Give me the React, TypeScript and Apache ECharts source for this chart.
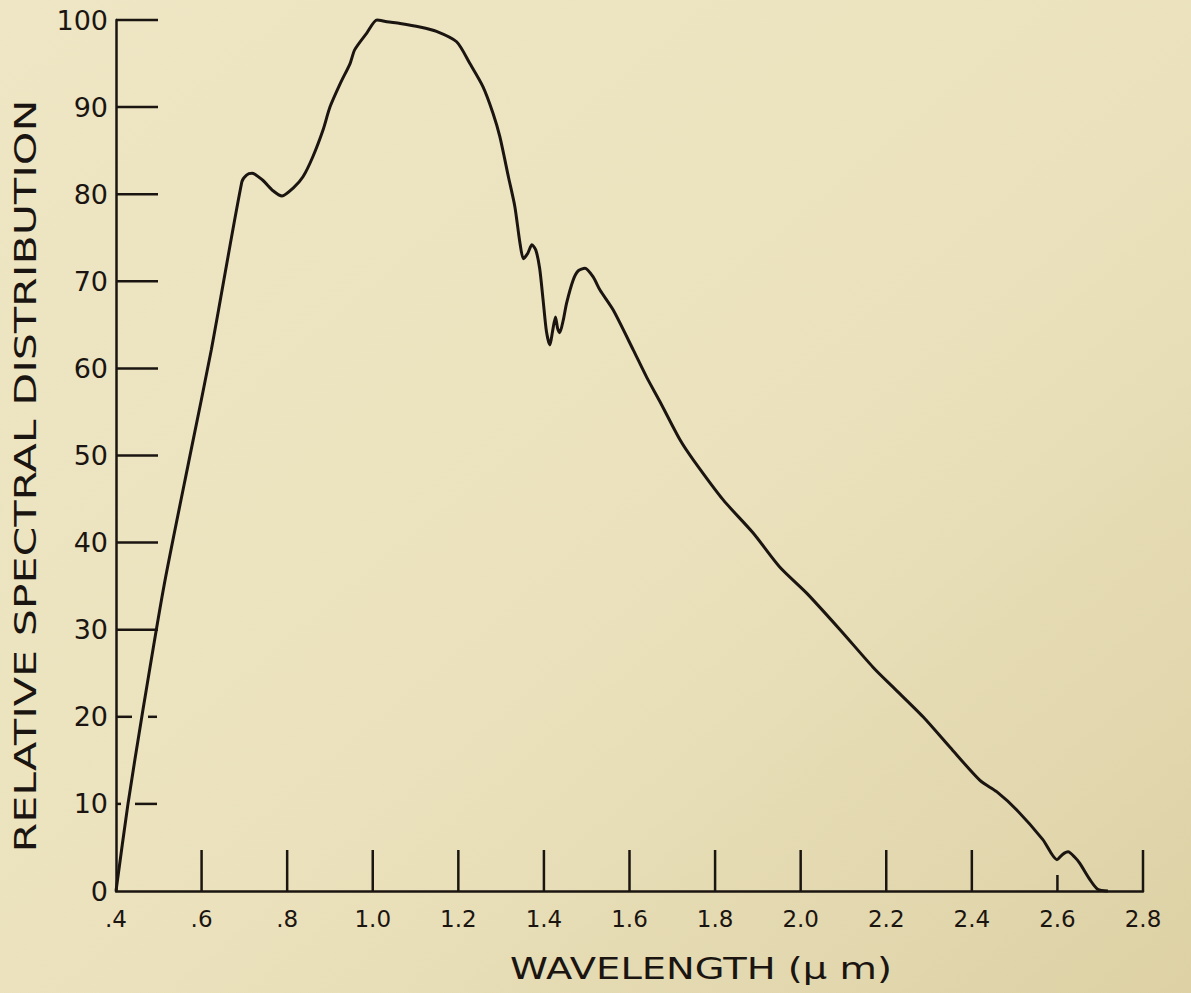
import React, { useEffect, useRef } from "react";
import * as echarts from "echarts";

// ---- data ----
const wavelengths = [
  0.4, 0.428, 0.461, 0.512, 0.575, 0.623, 0.694, 0.705, 0.718, 0.743, 0.767, 0.788,
  0.814, 0.837, 0.86, 0.884, 0.9, 0.925, 0.947, 0.958, 0.986, 1.01, 1.033, 1.064,
  1.11, 1.149, 1.196, 1.227, 1.258, 1.281, 1.297, 1.317, 1.332, 1.344, 1.352, 1.362,
  1.372, 1.381, 1.39, 1.398, 1.406, 1.414, 1.42, 1.427, 1.432, 1.437, 1.445, 1.453,
  1.468, 1.48, 1.496, 1.515, 1.531, 1.562, 1.609, 1.64, 1.671, 1.718, 1.749, 1.819,
  1.889, 1.951, 2.014, 2.092, 2.169, 2.216, 2.286, 2.349, 2.419, 2.458, 2.505, 2.566,
  2.599, 2.612, 2.625, 2.64, 2.652, 2.676, 2.694, 2.718,
];
const distribution = [
  0, 10, 20.2, 35, 50.5, 62.2, 81.4, 82.2, 82.4, 81.6, 80.4, 79.8,
  80.7, 82, 84.3, 87.4, 90, 92.8, 95, 96.6, 98.5, 100, 99.8, 99.6,
  99.2, 98.7, 97.5, 95, 92.3, 89.3, 86.6, 82, 78.6, 74.4, 72.6, 73.2,
  74.2, 73.6, 71.5, 67.9, 64.2, 62.7, 64.2, 65.9, 64.6, 64.1, 65.5, 67.5,
  70.1, 71.2, 71.5, 70.5, 69, 66.7, 62.1, 59, 56.2, 51.8, 49.5, 44.9,
  41.1, 37.2, 34.2, 30, 25.7, 23.4, 20, 16.5, 12.7, 11.4, 9.3, 5.9,
  3.6, 4.2, 4.5, 3.9, 3.2, 1.3, 0.2, 0,
];
const xTickValues = [0.6, 0.8, 1.0, 1.2, 1.4, 1.6, 1.8, 2.0, 2.2, 2.4, 2.6, 2.8];
const xTickLabels = [".4", ".6", ".8", "1.0", "1.2", "1.4", "1.6", "1.8", "2.0", "2.2", "2.4", "2.6", "2.8"];
const yTickValues = [10, 20, 30, 40, 50, 60, 70, 80, 90, 100];
const yTickLabels = ["0", "10", "20", "30", "40", "50", "60", "70", "80", "90", "100"];
const xTitle = "WAVELENGTH (\u03bc m)";
const yTitle = "RELATIVE SPECTRAL DISTRIBUTION";

// ---- styling ----
const INK = "#1b1511";
const FONT = "DejaVu Sans";
const X_MIN = 0.4;
const X_MAX = 2.8;
// tick segments (pixel offsets from axis), default full length
const Y_TICK_FULL = [[0, 42]];
const Y_TICK_SEGS: Record<string, number[][]> = { "10": [[0, 5], [19, 41]], "20": [[0, 16], [32, 41]] };
const X_TICK_FULL = [[0, 41]];
const X_TICK_SEGS: Record<string, number[][]> = { "2.6": [[0, 16]] };

export default function App() {
  const ref = useRef<HTMLDivElement>(null);
  useEffect(() => {
    if (!ref.current) return;
    const chart = echarts.init(ref.current, undefined, { renderer: "svg" });
    const curve = wavelengths.map((w, i) => [w, distribution[i]]);
    const lineStyle = { stroke: INK, lineWidth: 2.5 };
    chart.setOption({
      animation: false,
      backgroundColor: {
        type: "linear", x: 0, y: 0, x2: 1, y2: 1,
        colorStops: [
          { offset: 0, color: "#eee6c4" },
          { offset: 0.55, color: "#ebe2bd" },
          { offset: 1, color: "#ddd1a5" },
        ],
      },
      grid: { left: 116, right: 48, top: 20, bottom: 102, containLabel: false },
      xAxis: {
        type: "value", min: X_MIN, max: X_MAX, interval: 0.2,
        axisLine: { show: true, onZero: false, lineStyle: { color: INK, width: 2.5 } },
        axisTick: { show: false },
        splitLine: { show: false },
        axisLabel: {
          color: INK, fontFamily: FONT, fontSize: 23, margin: 16,
          formatter: (v: number) => xTickLabels[Math.round((v - X_MIN) / 0.2)] ?? "",
        },
      },
      yAxis: {
        type: "value", min: 0, max: 100, interval: 10,
        axisLine: { show: true, lineStyle: { color: INK, width: 2.5 } },
        axisTick: { show: false },
        splitLine: { show: false },
        axisLabel: {
          color: INK, fontFamily: FONT, fontSize: 27, margin: 8,
          formatter: (v: number) => yTickLabels[Math.round(v / 10)] ?? "",
        },
      },
      graphic: [
        {
          type: "text", x: 701, y: 968, scaleX: 1.24,
          style: { text: xTitle, fill: INK, font: `31px '${FONT}'`, align: "center", verticalAlign: "middle" },
        },
        {
          type: "text", x: 25, y: 476, rotation: Math.PI / 2, scaleX: 1.38,
          style: { text: yTitle, fill: INK, font: `31px '${FONT}'`, align: "center", verticalAlign: "middle" },
        },
      ],
      series: [
        {
          type: "custom", name: "yticks", silent: true, clip: false,
          data: yTickValues.map((v) => [X_MIN, v]),
          encode: { x: 0, y: 1 },
          renderItem: (params: any, api: any) => {
            const v = api.value(1);
            const p = api.coord([X_MIN, v]);
            const segs = Y_TICK_SEGS[String(v)] || Y_TICK_FULL;
            return {
              type: "group",
              children: segs.map((s) => ({
                type: "line",
                shape: { x1: p[0] + s[0], y1: p[1], x2: p[0] + s[1], y2: p[1] },
                style: lineStyle,
              })),
            };
          },
        },
        {
          type: "custom", name: "xticks", silent: true, clip: false,
          data: xTickValues.map((v) => [v, 0]),
          encode: { x: 0, y: 1 },
          renderItem: (params: any, api: any) => {
            const v = api.value(0);
            const p = api.coord([v, 0]);
            const segs = X_TICK_SEGS[v.toFixed(1)] || X_TICK_FULL;
            return {
              type: "group",
              children: segs.map((s) => ({
                type: "line",
                shape: { x1: p[0], y1: p[1] - s[0], x2: p[0], y2: p[1] - s[1] },
                style: lineStyle,
              })),
            };
          },
        },
        {
          type: "line", name: "spectral distribution",
          data: curve, showSymbol: false, smooth: 0.25, clip: false,
          lineStyle: { color: INK, width: 3 },
          z: 5,
        },
      ],
    });
    return () => chart.dispose();
  }, []);
  return (
    <div
      ref={ref}
      style={{ position: "absolute", left: 0, top: 0, width: 1191, height: 993 }}
    />
  );
}
